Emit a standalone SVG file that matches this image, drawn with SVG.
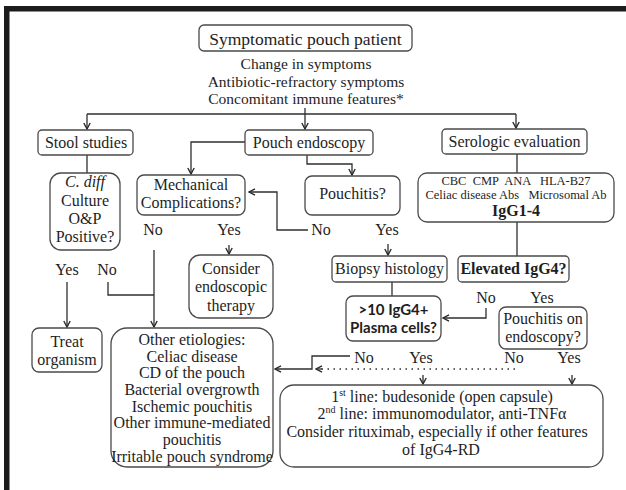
<svg xmlns="http://www.w3.org/2000/svg" width="626" height="490" viewBox="0 0 626 490">
<defs>
<marker id="arr" viewBox="0 0 8 8" refX="7" refY="4" markerWidth="8" markerHeight="8" orient="auto" markerUnits="userSpaceOnUse"><path d="M1,0.8 L7,4 L1,7.2" fill="none" stroke="#2a2a2a" stroke-width="1.4"/></marker>
<style>
.box{fill:#fff;stroke:#4a4a4a;stroke-width:1.3}
.t{font-family:"Liberation Serif","Times New Roman",serif;font-size:16px;fill:#1e1e1e;text-anchor:middle}
.s{font-size:12.5px}
.b{font-weight:bold}
.sans{font-family:Lato,"Liberation Sans",sans-serif;font-weight:bold;font-size:15px}
.ln{fill:none;stroke:#2f2f2f;stroke-width:1.3}
.dot{stroke-dasharray:1.5 4.5;stroke-width:1.6}
</style>
</defs>
<rect width="626" height="490" fill="#fff"/>
<g id="frame">
<rect x="4" y="6" width="622" height="5.5" fill="#1c1c1c"/>
<rect x="4" y="6" width="5.5" height="484" fill="#1c1c1c"/>
</g>
<g id="connectors">
<path class="ln" d="M87,114 H516"/>
<path class="ln" d="M87,114 V129" marker-end="url(#arr)"/>
<path class="ln" d="M516,114 V128" marker-end="url(#arr)"/>
<path class="ln" d="M305,108 V129" marker-end="url(#arr)"/>
<path class="ln" d="M87,155 V173"/>
<path class="ln" d="M245,142 H191 V174" marker-end="url(#arr)"/>
<path class="ln" d="M307,155 V164 H352 V175" marker-end="url(#arr)"/>
<path class="ln" d="M517,154 V173"/>
<path class="ln" d="M517,222 V256"/>
<path class="ln" d="M154,250 V327" marker-end="url(#arr)"/>
<path class="ln" d="M108,282 V295 H154"/>
<path class="ln" d="M67,282 V327" marker-end="url(#arr)"/>
<path class="ln" d="M229,245 V254" marker-end="url(#arr)"/>
<path class="ln" d="M308,230 H277 V192 H249" marker-end="url(#arr)"/>
<path class="ln" d="M388,244 V255" marker-end="url(#arr)"/>
<path class="ln" d="M392,282 V296"/>
<path class="ln" d="M486,308 V318 H443" marker-end="url(#arr)"/>
<path class="ln" d="M350,356 H312 V369 H275" marker-end="url(#arr)"/>
<path class="ln dot" d="M515,369 H320"/>
<path class="ln" d="M322,369 H316" marker-end="url(#arr)"/>
<path class="ln" d="M423,375 V384" marker-end="url(#arr)"/>
<path class="ln" d="M572,375 V384" marker-end="url(#arr)"/>
</g>
<g id="start">
<rect class="box" x="199" y="25" width="213" height="26" rx="5"/>
<text class="t" x="305.5" y="45" style="font-size:17.5px">Symptomatic pouch patient</text>
</g>
<g id="criteria">
<text class="t" x="306" y="69" style="font-size:15.5px">Change in symptoms</text>
<text class="t" x="306" y="87" style="font-size:15.5px">Antibiotic-refractory symptoms</text>
<text class="t" x="306" y="104" style="font-size:15.5px">Concomitant immune features*</text>
</g>
<g id="stool">
<rect class="box" x="38" y="130" width="95" height="25" rx="4"/>
<text class="t" x="86" y="148">Stool studies</text>
</g>
<g id="endoscopy">
<rect class="box" x="245" y="130" width="128" height="25" rx="4"/>
<text class="t" x="309" y="148">Pouch endoscopy</text>
</g>
<g id="serology">
<rect class="box" x="442" y="129" width="145" height="25" rx="4"/>
<text class="t" x="514.5" y="147">Serologic evaluation</text>
</g>
<g id="cdiff">
<rect class="box" x="50" y="173" width="70" height="77" rx="11"/>
<text class="t" x="85" y="187" font-style="italic">C. diff</text>
<text class="t" x="85" y="206">Culture</text>
<text class="t" x="85" y="224">O&amp;P</text>
<text class="t" x="85" y="242">Positive?</text>
</g>
<g id="mechanical">
<rect class="box" x="137" y="175" width="108" height="40" rx="7"/>
<text class="t" x="191" y="190">Mechanical</text>
<text class="t" x="191" y="208">Complications?</text>
</g>
<g id="pouchitis">
<rect class="box" x="305" y="176" width="95" height="39" rx="7"/>
<text class="t" x="352.5" y="199">Pouchitis?</text>
</g>
<g id="labs">
<rect class="box" x="418" y="173" width="196" height="49" rx="9"/>
<text class="t s" x="516" y="185" xml:space="preserve">CBC  CMP  ANA   HLA-B27</text>
<text class="t s" x="516" y="198.5" xml:space="preserve">Celiac disease Abs   Microsomal Ab</text>
<text class="t b" x="516" y="216">IgG1-4</text>
</g>
<g id="cdiff-labels">
<text class="t" x="67" y="275">Yes</text>
<text class="t" x="107" y="275">No</text>
</g>
<g id="mech-labels">
<text class="t" x="153" y="235">No</text>
<text class="t" x="229" y="235">Yes</text>
</g>
<g id="pouchitis-labels">
<text class="t" x="321" y="235">No</text>
<text class="t" x="387" y="235">Yes</text>
</g>
<g id="endo-therapy">
<rect class="box" x="189" y="255" width="84" height="63" rx="11"/>
<text class="t" x="231" y="274">Consider</text>
<text class="t" x="231" y="292">endoscopic</text>
<text class="t" x="231" y="311">therapy</text>
</g>
<g id="biopsy">
<rect class="box" x="332" y="256" width="115" height="26" rx="4"/>
<text class="t" x="389.5" y="274">Biopsy histology</text>
</g>
<g id="elevated">
<rect class="box" x="458" y="256" width="111" height="26" rx="4"/>
<text class="t b" x="513.5" y="274">Elevated IgG4?</text>
</g>
<g id="elevated-labels">
<text class="t" x="486" y="303">No</text>
<text class="t" x="542" y="303">Yes</text>
</g>
<g id="plasma">
<rect class="box" x="346" y="296" width="95" height="45" rx="7"/>
<text class="t sans" x="393.5" y="315">&gt;10 IgG4+</text>
<text class="t sans" x="393.5" y="333">Plasma cells?</text>
</g>
<g id="pouchitis-endo">
<rect class="box" x="499" y="307" width="88" height="42" rx="7"/>
<text class="t" x="543" y="324">Pouchitis on</text>
<text class="t" x="543" y="342">endoscopy?</text>
</g>
<g id="lower-labels">
<text class="t" x="364" y="363">No</text>
<text class="t" x="421" y="363">Yes</text>
<text class="t" x="514" y="363">No</text>
<text class="t" x="569" y="363">Yes</text>
</g>
<g id="treat">
<rect class="box" x="32" y="328" width="70" height="44" rx="7"/>
<text class="t" x="67" y="347">Treat</text>
<text class="t" x="67" y="365">organism</text>
</g>
<g id="other">
<rect class="box" x="111" y="328" width="162" height="139" rx="16"/>
<text class="t" x="192" y="345">Other etiologies:</text>
<text class="t" x="192" y="362">Celiac disease</text>
<text class="t" x="192" y="378">CD of the pouch</text>
<text class="t" x="192" y="395">Bacterial overgrowth</text>
<text class="t" x="192" y="412">Ischemic pouchitis</text>
<text class="t" x="192" y="428">Other immune-mediated</text>
<text class="t" x="192" y="445">pouchitis</text>
<text class="t" x="192" y="462">Irritable pouch syndrome</text>
</g>
<g id="treatment">
<rect class="box" x="280" y="385" width="323" height="82" rx="14"/>
<text class="t" x="442" y="402">1<tspan font-size="10" dy="-6">st</tspan><tspan dy="6"> line: budesonide (open capsule)</tspan></text>
<text class="t" x="442" y="419">2<tspan font-size="10" dy="-6">nd</tspan><tspan dy="6"> line: immunomodulator, anti-TNFα</tspan></text>
<text class="t" x="437" y="437">Consider rituximab, especially if other features</text>
<text class="t" x="441" y="455">of IgG4-RD</text>
</g>
</svg>
